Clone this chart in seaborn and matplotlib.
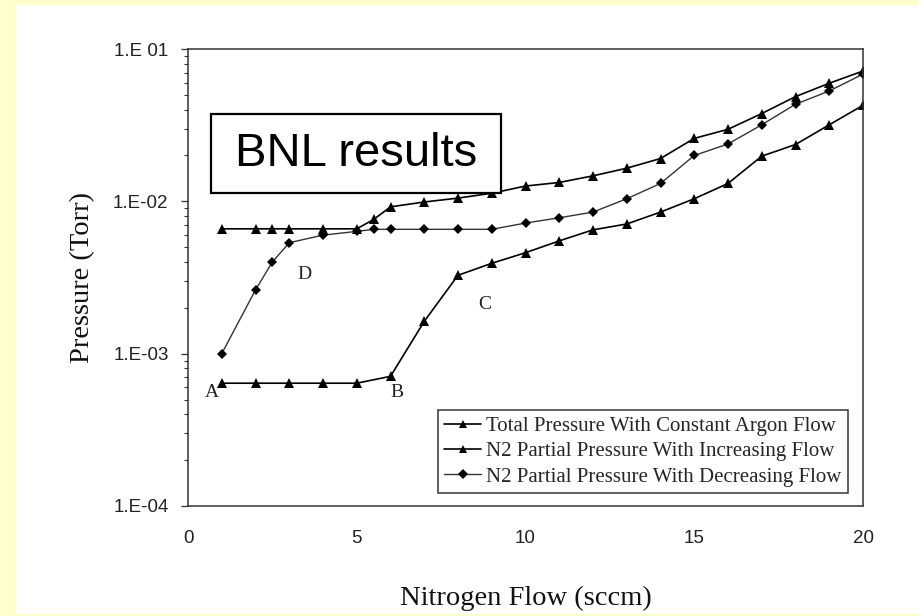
import numpy as np
import matplotlib
matplotlib.use("Agg")
import matplotlib.pyplot as plt
import matplotlib.ticker as mticker
from matplotlib.patches import Rectangle
import seaborn as sns

# Nitrogen flow (sccm) and pressures (Torr)
flow_total = [1, 2, 2.5, 3, 4, 5, 5.5, 6, 7, 8, 9, 10, 11, 12, 13, 14, 15, 16, 17, 18, 19, 20]
total_pressure = [0.0066, 0.0066, 0.0066, 0.0066, 0.0066, 0.0066, 0.0076, 0.0092, 0.0099,
                  0.0105, 0.0113, 0.0126, 0.0133, 0.0147, 0.0165, 0.0191, 0.0259, 0.0297,
                  0.0377, 0.0487, 0.0596, 0.0717]

flow_increasing = [1, 2, 3, 4, 5, 6, 7, 8, 9, 10, 11, 12, 13, 14, 15, 16, 17, 18, 19, 20]
n2_increasing = [0.00064, 0.00064, 0.00064, 0.00064, 0.00064, 0.00071, 0.00163, 0.00327,
                 0.00392, 0.0046, 0.0055, 0.0065, 0.0071, 0.0085, 0.0104, 0.0131, 0.0198,
                 0.0236, 0.0318, 0.0427]

flow_decreasing = [1, 2, 2.5, 3, 4, 5, 5.5, 6, 7, 8, 9, 10, 11, 12, 13, 14, 15, 16, 17, 18, 19, 20]
n2_decreasing = [0.0010, 0.00262, 0.0040, 0.00535, 0.0060, 0.00635, 0.00655, 0.00655, 0.00655,
                 0.00655, 0.00655, 0.0072, 0.0078, 0.0085, 0.0104, 0.0131, 0.0200, 0.0238,
                 0.0318, 0.0434, 0.0530, 0.0684]

series_labels = ["Total Pressure With Constant Argon Flow",
                 "N2 Partial Pressure With Increasing Flow",
                 "N2 Partial Pressure With Decreasing Flow"]

ytick_values = [1e-4, 1e-3, 1e-2, 1e-1]
ytick_labels = ["1.E-04", "1.E-03", "1.E-02", "1.E 01"]
xtick_values = [0, 5, 10, 15, 20]

# point labels: text, flow, pressure
point_labels = [("A", 0.72, 0.00056), ("B", 6.2, 0.00056), ("C", 8.8, 0.0021), ("D", 3.45, 0.0033)]

sns.set_theme(style="white")
plt.rcParams["font.family"] = ["Liberation Sans", "DejaVu Sans"]

fig = plt.figure(figsize=(9.19, 6.16), dpi=100)
fig.patch.set_facecolor("#FFFFCC")
# white slide area inside the yellow border
fig.patches.append(Rectangle((15 / 919, 2 / 616), 904 / 919, 609 / 616,
                             transform=fig.transFigure, facecolor="white",
                             edgecolor="none", zorder=-10))

ax = fig.add_axes([188 / 919, 110 / 616, 675 / 919, 457 / 616])
ax.set_zorder(5)
ax.set_facecolor("white")

sns.lineplot(x=flow_total, y=total_pressure, ax=ax, color="black", linewidth=1.2,
             marker="^", markersize=7.5, markeredgewidth=0, label=series_labels[0])
sns.lineplot(x=flow_increasing, y=n2_increasing, ax=ax, color="black", linewidth=1.2,
             marker="^", markersize=7.5, markeredgewidth=0, label=series_labels[1])
sns.lineplot(x=flow_decreasing, y=n2_decreasing, ax=ax, color="#333333", linewidth=1.0,
             marker="D", markersize=5.5, markeredgewidth=0, markerfacecolor="black",
             label=series_labels[2])

ax.set_yscale("log")
ax.set_xlim(0, 20)
ax.set_ylim(1e-4, 1e-1)
ax.set_yticks(ytick_values)
ax.set_yticklabels(ytick_labels)
ax.yaxis.set_minor_locator(mticker.LogLocator(base=10, subs=np.arange(2, 10)))
ax.yaxis.set_minor_formatter(mticker.NullFormatter())
ax.set_xticks(xtick_values)
ax.set_xticklabels([str(v) for v in xtick_values])

ax.tick_params(axis="y", which="major", direction="out", length=5, width=0.9,
               colors="#333333", labelsize=13.5, pad=9, left=True)
ax.tick_params(axis="y", which="minor", direction="out", length=3, width=0.8,
               color="#333333", left=True)
ax.tick_params(axis="x", which="both", length=0, labelsize=13.5, pad=17,
               labelcolor="#222222")
for lbl in ax.get_yticklabels():
    lbl.set_color("#222222")

for side in ["left", "right", "top", "bottom"]:
    ax.spines[side].set_visible(True)
    ax.spines[side].set_color("#333333")
    ax.spines[side].set_linewidth(1.1)

ax.set_xlabel("Nitrogen Flow (sccm)", family="Liberation Serif", fontsize=20.5,
              color="#111111", labelpad=28)
ax.set_ylabel("Pressure (Torr)", family="Liberation Serif", fontsize=20.5,
              color="#111111", labelpad=13)

for txt, fx, fy in point_labels:
    ax.text(fx, fy, txt, family="Liberation Serif", fontsize=14, ha="center",
            va="center", color="#222222")

# "BNL results" callout box
ax.add_patch(Rectangle((0.034, 0.684), 0.43, 0.173, transform=ax.transAxes,
                       facecolor="white", edgecolor="black", linewidth=1.6, zorder=5))
ax.text(0.249, 0.770, "BNL results", transform=ax.transAxes, fontsize=34,
        family="Liberation Sans", ha="center", va="center", color="black", zorder=6)

leg = ax.legend(loc="lower right", bbox_to_anchor=(0.978, 0.028), borderaxespad=0,
                frameon=True, fancybox=False, framealpha=1, edgecolor="#333333",
                prop={"family": "Liberation Serif", "size": 15},
                handlelength=1.75, handletextpad=0.25, labelspacing=0.27,
                borderpad=0.32)
leg.get_frame().set_linewidth(1.1)
for h in leg.legend_handles:
    h.set_markersize(5.5)

fig.savefig("out.png", dpi=100, facecolor=fig.get_facecolor())
